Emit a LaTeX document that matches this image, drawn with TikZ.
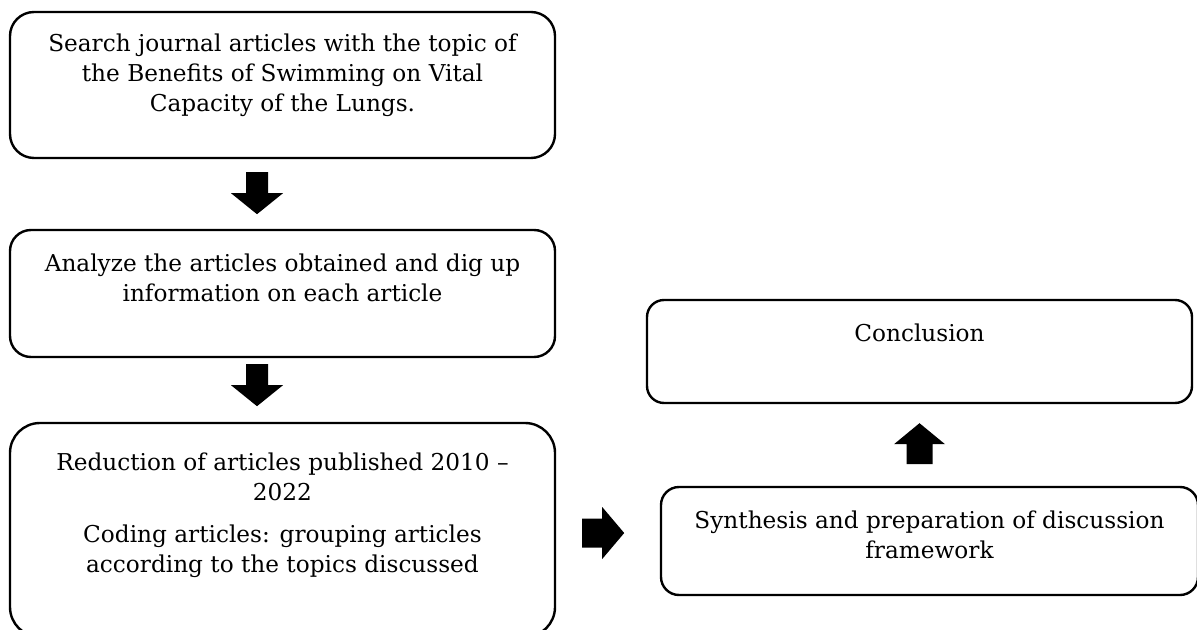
\documentclass[tikz,border=0pt]{standalone}
\usepackage{fontspec}
\setmainfont{DejaVu Serif}

\begin{document}
\begin{tikzpicture}[x=0.5pt, y=-0.5pt,
  stage/.style={shape=rectangle, draw=black, line width=1.2pt, inner sep=0pt},
  stagetext/.style={anchor=north, align=center, inner sep=0pt, font=\fontsize{11.6}{15}\selectfont}]
  \useasboundingbox (0,0) rectangle (1197,630);

  \node [stage, rounded corners=12pt, minimum width=272.5pt, minimum height=73pt] (search) at (282.5,85) {};
  \node [stage, rounded corners=10.5pt, minimum width=272.5pt, minimum height=63.5pt] (analyze) at (282.5,293.5) {};
  \node [stage, rounded corners=15pt, minimum width=272.5pt, minimum height=107pt] (reduce) at (282.5,530) {};
  \node [stage, rounded corners=8.5pt, minimum width=272.5pt, minimum height=51.5pt] (conclusion) at (919.5,351.5) {};
  \node [stage, rounded corners=9pt, minimum width=268.5pt, minimum height=54pt] (synthesis) at (929.5,541) {};

  \node [stagetext] (searchtext) at ([yshift=-11.5pt]search.north)
    {Search journal articles with the topic of\\ the Benefits of Swimming on Vital\\ Capacity of the Lungs.};
  \node [stagetext] (analyzetext) at ([yshift=-12.5pt]analyze.north)
    {Analyze the articles obtained and dig up\\ information on each article};
  \node [stagetext] (reducetext) at ([yshift=-15.5pt]reduce.north)
    {Reduction of articles published 2010 –\\ 2022\\[6pt] Coding articles: grouping articles\\ according to the topics discussed};
  \node [stagetext] (conclusiontext) at ([yshift=-12.5pt]conclusion.north) {Conclusion};
  \node [stagetext] (synthesistext) at ([yshift=-12.5pt]synthesis.north)
    {Synthesis and preparation of discussion\\ framework};

  % block arrows
  \coordinate (down1) at ([xshift=-12.75pt, yshift=-6.5pt]search.south);
  \coordinate (down2) at ([xshift=-12.75pt, yshift=-3pt]analyze.south);
  \coordinate (up1) at ([yshift=-9.5pt]conclusion.south);
  \coordinate (right1) at ([xshift=13pt, yshift=-1.5pt]reduce.east);

  \fill (down1) ++(-11,0) -- ++(22,0) -- ++(0,21) -- ++(15,0) -- ++(-26,21) -- ++(-26,-21) -- ++(15,0) -- cycle;
  \fill (down2) ++(-11,0) -- ++(22,0) -- ++(0,21) -- ++(15,0) -- ++(-26,21) -- ++(-26,-21) -- ++(15,0) -- cycle;
  \fill (up1) -- ++(25.5,21) -- ++(-12.5,0) -- ++(0,20) -- ++(-26,0) -- ++(0,-20) -- ++(-12.5,0) -- cycle;
  \fill (right1) ++(0,-14.5) -- ++(20,0) -- ++(0,-11.5) -- ++(22,26) -- ++(-22,26) -- ++(0,-11.5) -- ++(-20,0) -- cycle;
\end{tikzpicture}
\end{document}
